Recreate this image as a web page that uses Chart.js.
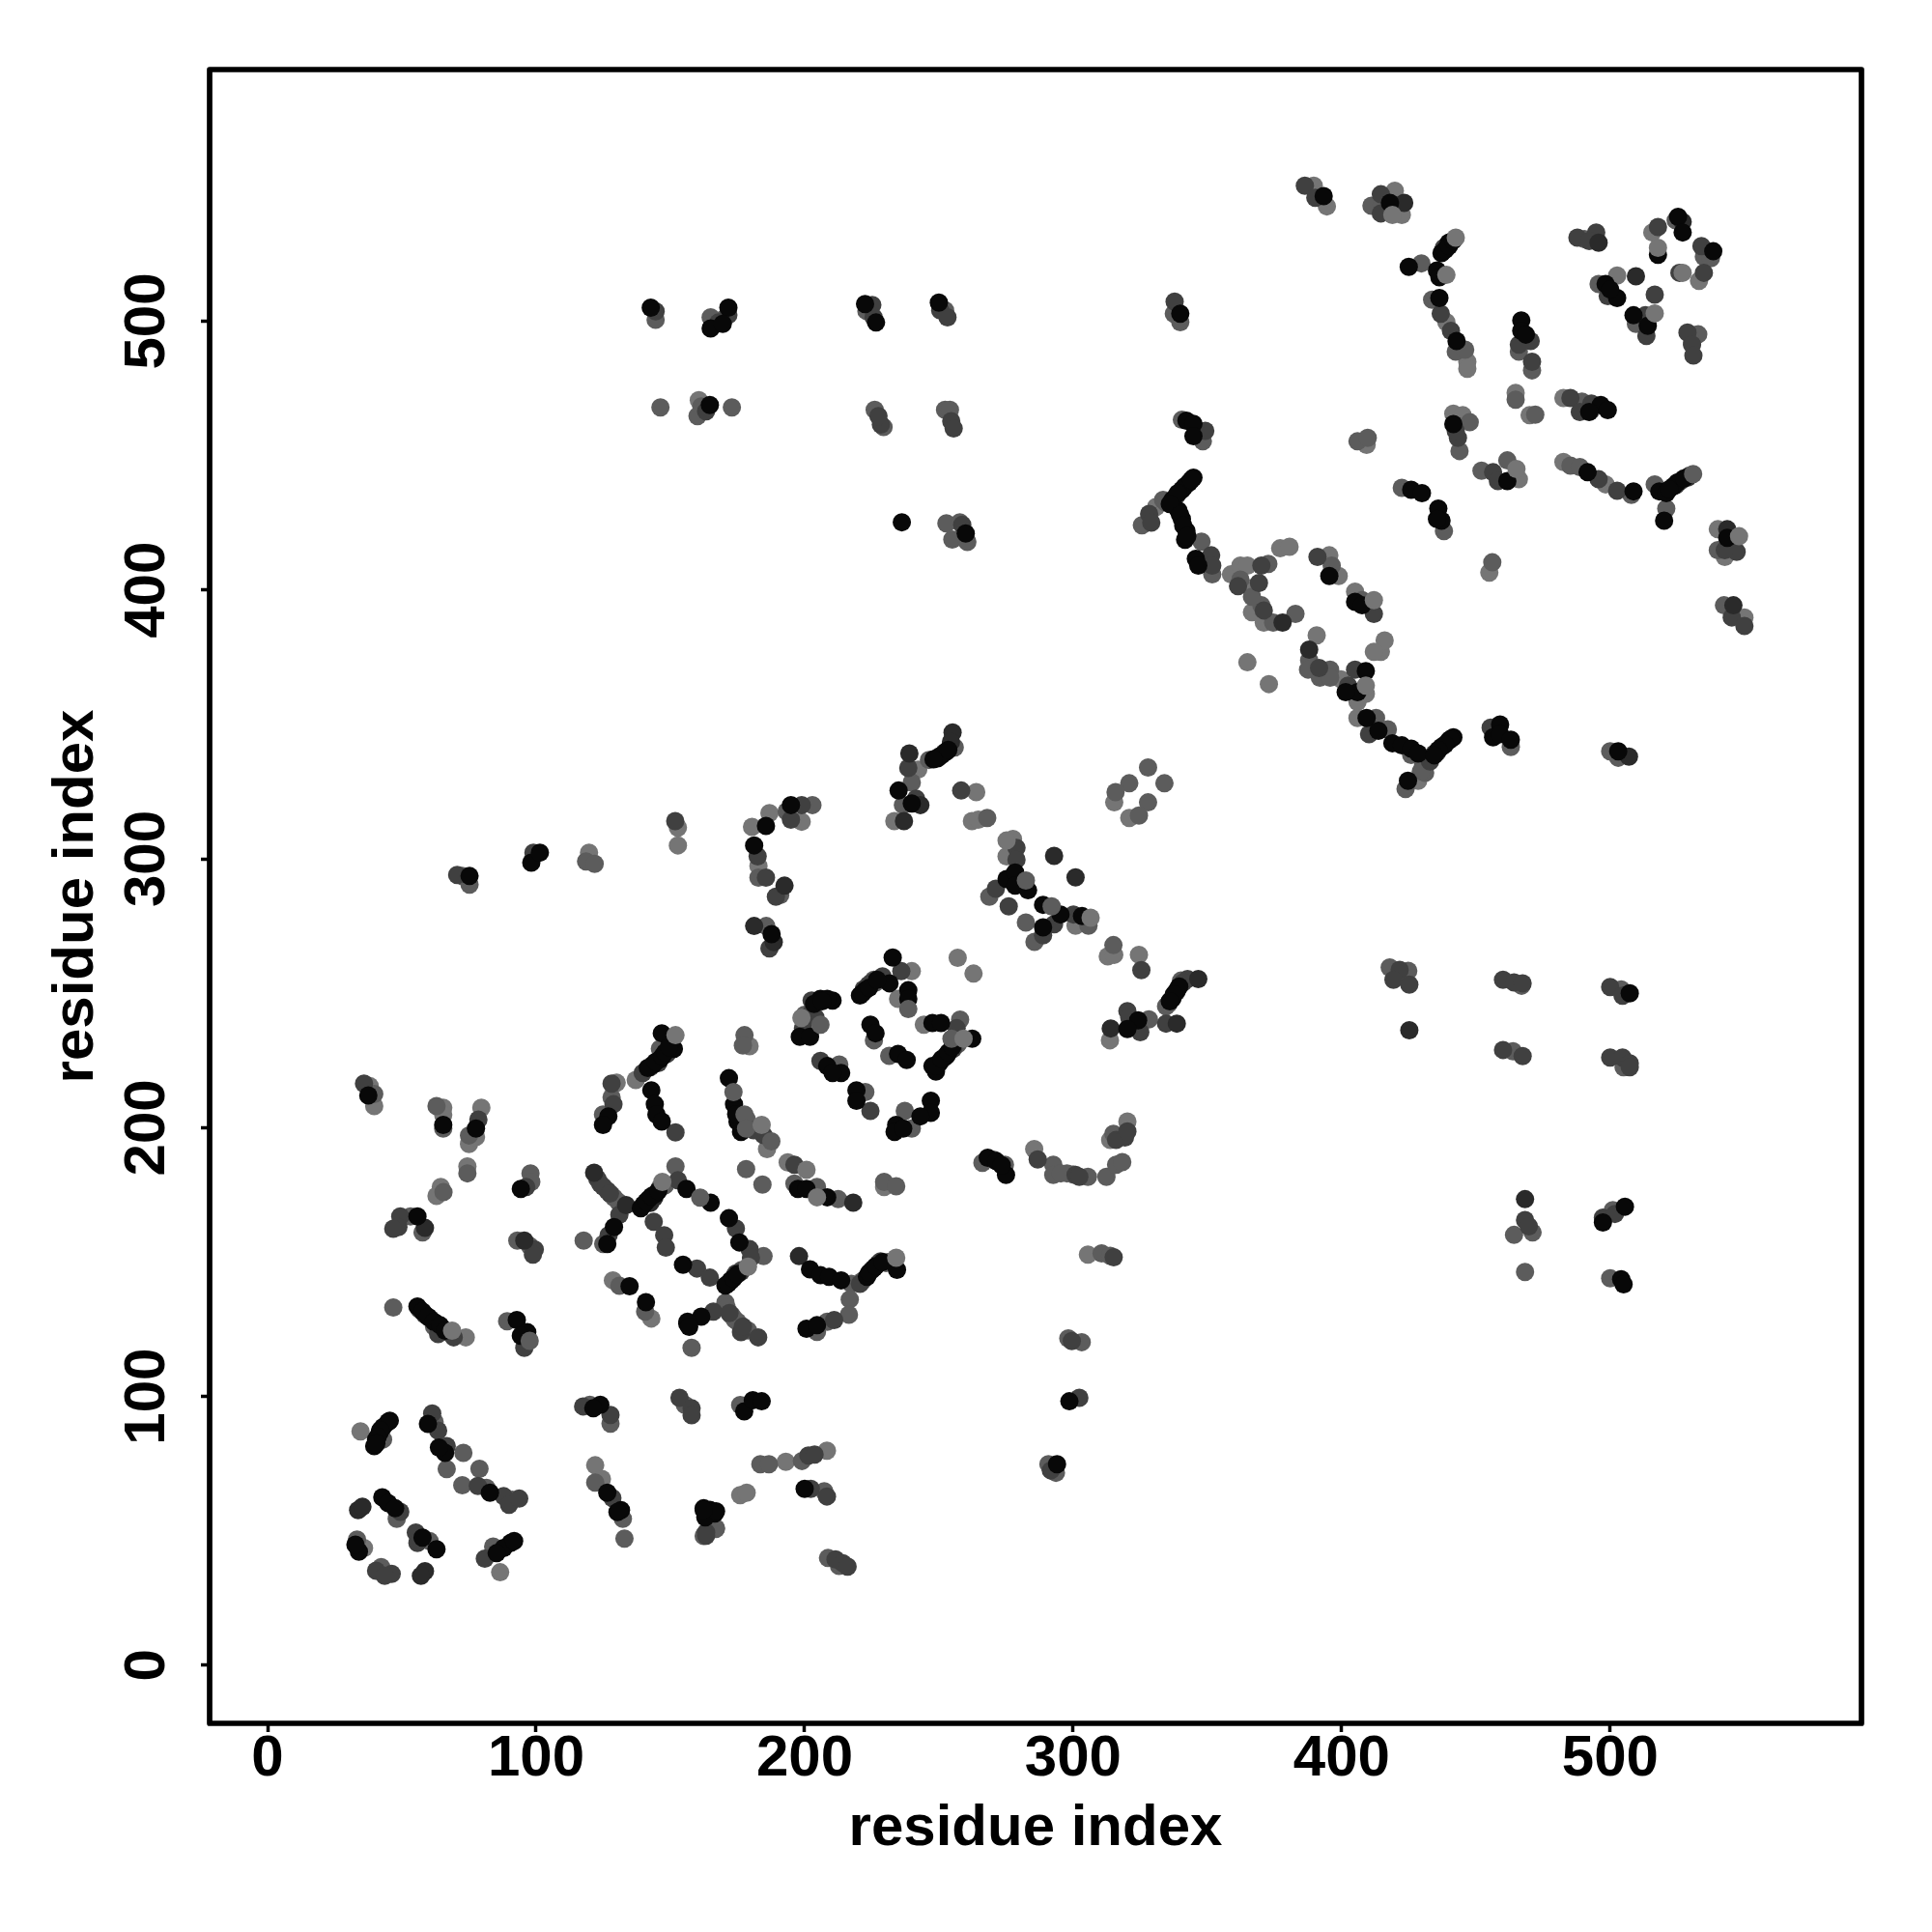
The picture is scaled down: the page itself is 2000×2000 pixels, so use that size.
<!DOCTYPE html>
<html>
<head>
<meta charset="utf-8">
<title>residue contacts</title>
<script src="https://cdn.jsdelivr.net/npm/chart.js@4"></script>
<style>
  html, body { margin: 0; padding: 0; background: #fff; }
  canvas { display: block; }
</style>
</head>
<body>
<canvas id="contacts" width="2000" height="2000"></canvas>
<script>
// contact points, [residue x, residue y], one list per grey level
const lightPoints = [
  [38,215.5],[39.7,208],[65.4,207.4],[65.4,204.8],[79.6,207.4],[75,193.9],[77.6,196.5],[74.4,185.6],[64.5,177.9],[62.9,174.6],
  [73.8,122],[34.6,87],[35.9,43.6],[86.6,34.6],[122,74.4],[124.5,69.3],[128.6,143.2],[142.9,129],
  [137.1,217.7],[130,216.7],[179.5,230.3],[186,192],[193.7,187.1],[229.6,177.9],
  [239.9,258.2],[257,263.2],[262.9,257.3],[244.4,238.3],[234.8,247.9],[285.5,192],
  [119.7,302.3],[152.8,311.6],[152.8,305],[180.4,311.9],[186.9,317],[182.8,297.3],[198.9,313.8],[242.3,333.2],[233.4,314],[263.9,324.8],
  [262.3,314],[264.7,314.6],[315.3,321],[320.9,315.2],[277.6,307.4],[275.2,300.9],[300.9,275.1],[312.9,263.7],
  [315.3,264.3],[324.5,264.3],[313.7,232.5],[300,182.6],[313.8,195.4],[320.2,202.3],[305.5,152.8],
  [389.6,550.4],[394.5,542.7],[419.8,548.5],[422.4,539.5],[439,499.6],[446.8,484.9],[446.8,482.3],[464.8,473.3],
  [470,465],[482.6,471.4],[493,466.9],[409.3,454],[441.6,465.6],[445.1,465],[466,441.2],[482.6,447.6],[498.3,439.3],
  [330.9,430.9],[358.8,405.8],[362.3,409.1],[364.9,409.1],[377.1,415.5],[380.6,416.1],[366.6,400.7],[366.6,391.7],[371,387.9],[395.4,412.9],
  [398.9,405.2],[405,399.4],[390.7,383.1],[364.9,373.1],[372.9,365],[399.7,366.8],[414.6,377],[416,381.2],[412,377],
  [409,361.4],[405.9,358.4],[405.9,352.4],[428.5,329],[540.1,422.6],[542.7,412.3],[550,389.8],[455,406.5],
  [515.7,533],[533.1,515],[502.6,517],[160.6,470.6],[176,63.3],[178.4,64.2],[193,75.7],[208.3,79.8]
];

const midPoints = [
  [39.7,212.5],[62.9,208],[65.4,199.7],[75,197.1],[74.4,183],[65.5,176],[53.2,167],[57.7,161],[97.9,183],[98.2,179.8],
  [93,158],[97.6,156],[117.7,158],[129,174],[125,156.7],[151.9,185.6],[131,141.2],[140.6,131.6],[157.9,118.1],
  [46.8,133.1],[89.2,128],[43,84],[62.2,90.5],[72.9,79],[66.7,73],[78.9,73.1],[72.5,67],[81.5,66],
  [91.1,61.6],[48.1,54.5],[60.3,46.2],[33.3,46.8],[42.3,36.5],[84,44.2],[120,96.9],[127.7,89.9],[155.4,96.9],[122,68],
  [132.3,54.5],[132.9,47.1],[162.4,48.1],[166.9,50.7],[176,96.8],[183.5,74.8],[186.7,74.8],[199,76],[207.3,64.7],[208.7,39.9],
  [212.8,37],[167,51],[146.1,229.3],[128.1,211.3],[124.9,204.9],[177.6,234.4],[177,230.6],
  [178.2,184.6],[184.3,178.8],[196.2,179.2],[204.6,177.9],[212.5,173.4],[229.6,179.8],[234.1,178.2],[225.8,255],
  [225.8,232.5],[257.9,240.2],[231.5,226.7],[212.9,223.5],[222.6,213.2],[237.3,206.2],[239.9,199.7],[266.2,186.9],
  [274.6,186.2],[292.6,186.2],[292.6,182.4],[297.7,183],[184.7,152.2],[170.5,134.9],[172.5,130.4],[175,127.8],[178.9,124.6],[217.4,141.9],
  [230.3,149.6],[216.8,136.1],[216.5,130.4],[208.4,127.8],[204.6,124],[118.6,299],[72.5,293.6],[75.2,290.4],[182.8,293],[190.9,286.5],
  [202.9,320],[193.3,317.6],[185.7,275],[255.9,341.4],[246.3,336.8],[239.9,328.4],[236.6,320],[268,315.2],[327.9,334],[320.9,328.1],
  [334,328.1],[315.8,324.8],[327.9,321],[324.5,316.1],[268.8,285.9],[282.4,276.3],[285.6,269.1],[305.7,275.1],
  [315,267.9],[340.2,254.7],[334.6,245.1],[328.2,240.3],[295.4,183],[305.5,181.7],[312.4,181.7],[316,186.2],[318.3,187.2],[315,197.7],
  [310.6,153.2],[313.8,152.3],[298.2,121.6],[303.2,120.2],[290.8,74.8],[293.6,71.6],[417.9,259.6],[424.8,258.3],[467,252.8],[504.1,251.4],
  [463.8,228.4],[505,222.5],[471.1,161],[464.2,160.1],[468.3,146.3],[501,169.3],[500,144],[411.1,542.9],[414.9,543.3],
  [429.7,521.5],[433.7,508],[442.5,488.7],[446,489.4],[470.9,481.7],[466,488.7],[464.8,470.8],[472.1,465.2],[489.5,470.1],[340.5,463.3],
  [348.3,455.3],[405.9,455.3],[409.7,456.6],[447.7,462.4],[443.9,451.7],[452.1,444.4],[461.7,448.2],[485.2,446.3],[488.7,445.7],[507.9,435.4],
  [516.6,439.3],[520.9,430.3],[422.4,438],[438.1,421.9],[333.5,433.5],[325.6,424.1],[347.8,418],[351.8,405.8],[372.7,409.7],
  [362.3,403.9],[370.1,394.3],[374.5,387.9],[382.8,391.1],[366.6,397.5],[396.3,409.1],[407.6,396.2],[387.9,373.9],[387.5,370.4],[391.9,367.4],
  [395.7,370.4],[395.7,367.4],[412.8,352.4],[417.2,348.2],[425.9,338.6],[430.3,334.4],[431.1,332],[423.8,326],[463,341.6],[500,340],
  [503,337.6],[540.1,414.8],[542.4,394.3],[456.1,410.3],[490.4,530.5],[524.4,537.5],[534.9,524],[537.5,523.4],[495.7,513.8],[509.6,499],
  [532.8,495.1],[530.5,492],[144.5,500.5],[165,501.4],[169.3,500.5],[223,503.8],[252.3,504],[146.3,467.9],[160.1,464.7],[161.5,468.3],
  [172.9,467.9],[226.1,467],[229.4,460.6],[252.3,467],[254.1,467],[252.8,424.8],[257.8,425.2],[255,418.8],[260.6,417.9],[337.5,502.8],[339.9,499.6],
  [41.5,83.5],[67,124],[62,126],[146,177.5],[148,178.5],[147,227.5],[226.5,254],[228,255.5],[253,227],[255,229.5],[257,231],
  [221.5,143],[231,150],[174,145],[176.5,147],[128,175],[130.5,172.5],[171,133],[173,130],[174,128.5],[177,125.5],
  [334.5,432.5],[431.5,335.5],[429.5,332.5],[335.5,246],[178.5,203],[200,242]
];

const darkPoints = [
  [35.9,216.4],[78.5,203],[49.4,167],[48.7,163],[46.8,162.4],[96.3,177.9],[99.5,154.7],[98.8,152.8],[123.9,179.1],[126.5,176.6],
  [131,167.6],[127,160],[152.8,180.4],[147.7,160],[148.3,155.4],[159.9,147.6],[143.8,165],[164.7,144.2],[63.5,123.2],[69.3,122],
  [95.6,118.1],[61.3,93.7],[63.5,87.3],[66.7,81.5],[78.3,66.7],[87.9,62.9],[89.9,59.7],[93.7,62],[49.4,57.1],[55.2,49.4],
  [55.8,45.5],[40.4,35.2],[46.2,34],[43.6,33.3],[80.9,39.7],[117.5,96.3],[127.7,93.1],[153.4,99.5],[157.9,95.6],[157.9,93],
  [128.4,62.2],[202.3,65.6],[201.4,78],[203.7,78.4],[208.3,62.8],[211.5,39.4],[214.2,38],[216,36.7],[163.3,49.5],[163.3,48.2],
  [148.7,227.4],[139.7,220.3],[128.1,216.4],[128.8,208.7],[151.9,198.2],[184.7,197.2],[196.2,186.2],[236,258.2],[223.8,253.1],[229,256.3],
  [202.6,247.3],[202.6,242.8],[199.4,237],[256.6,237],[255.3,229.3],[205.9,224.8],[224.5,206.2],[286.8,188.2],[300.9,182.4],[174.4,162.5],
  [179.5,154.8],[180,151.6],[174.4,145.8],[176.3,146.4],[166,131.6],[182.7,122],[176.3,123.9],[220.6,141.9],[228.3,150.3],[211,128.4],
  [70.6,294],[99,302.3],[151.8,314],[182.5,300.9],[185.6,293],[189.3,285.9],[198.9,320],[194.9,314.6],[186.9,266.7],
  [238.6,333.8],[241.5,322.4],[258.3,325.4],[278.9,304.1],[278.9,299.7],[271.2,288.9],[276,282.3],[292.9,275.7],[288.8,271.5],[300.1,279.3],
  [325.4,258.6],[342.6,255.3],[334.6,238.7],[320.2,243.3],[320.9,240.9],[325,235.5],[270.6,188],[302.3,181.7],[316,195.4],[319.3,196.3],
  [320.2,198.6],[315.1,151.8],[299.5,120.6],[302.3,99.5],[291.7,72.5],[421.6,258.7],[419.3,255],[425.2,253.2],[460.1,255],[464.2,254],
  [467.4,253.7],[500,252.3],[504.6,249.1],[460.1,228.9],[467.4,226.6],[500,226.1],[504.6,226.1],[507.3,223.9],[507.3,222.5],[468.3,165.6],
  [469.7,163.3],[497.3,166.5],[501.8,167.9],[386.3,550.4],[390.2,545.9],[414.6,547.2],[414.6,540.1],[438.1,527.3],[440.7,496.4],[470.4,492.6],
  [466,491.3],[470.9,484.9],[485.2,471.4],[493,469.4],[488.7,466.2],[349.2,459.2],[443.3,456.6],[442.5,459.2],[456.4,443.8],[458.2,440.5],
  [495.7,441.2],[502.6,436.9],[526.2,440.5],[528.8,441.8],[338.7,435.4],[328.3,428.3],[329.1,425.1],[351.4,412.9],[351.8,409.1],[370.1,409.1],
  [361.4,401.4],[369.2,402.6],[371,392.4],[391,412.3],[412,391.1],[391.6,371],[402.4,364.4],[405,370.4],[410.2,346.4],[434.6,339.2],
  [432.9,336.2],[455.5,348.8],[547.1,414.2],[542.7,414.8],[545.3,389.8],[550,386.6],[487.8,531.1],[494.8,533],[492.2,529.8],[517.8,535],
  [534,527.9],[525.8,518],[534.9,518],[499.1,509.3],[516.6,509.9],[513.1,502.2],[513.5,494.5],[528.8,495.8],[530.5,491.3],[531,487.2],
  [144.5,503.7],[167.9,499.5],[171.6,502.3],[225.2,506],[225.7,501.4],[250.5,504],[253.2,501.4],[163.3,466.5],[228.4,461.5],[227.5,464.7],
  [254.6,462.8],[255.5,460.1],[258.7,424.3],[337.8,507.3],[436.9,502.8],
  [56.5,132.5],[58.5,130.5],[60.5,129],[63,127],[65,125.5],[142.5,222.5],[145.5,224],[222,251.5],[225,254],[250,224],[252,226],
  [225,147],[227.5,149.5],[172.5,143],[122.8,181],[125,178],[127.5,175.5],[172,131],[177,126],[338,434.5],[433,337],[435.5,339.5],
  [250,338],[252,339.5],[341,254],[338.5,250.5],[524.5,439],[181,199],[204,241]
];

const charcoalPoints = [
  [58.6,162.7],[95.6,158],[121.6,183.2],[133.5,171.2],[33.7,57.7],[35.3,59],[58.6,35],[57.1,33.3],[218.1,172.1],[197.9,152.2],
  [239,339.2],[255.1,347],[243.1,320],[237,314],[181.2,275],[188.5,269],[192.5,290],[292.9,301.1],[300.9,293.1],[346.6,255.3],
  [338.6,238.7],[314,236.9],[468.3,173.4],[423.3,544],[378,387.9],[387.9,377.8],[507,338],[543.6,422.6],[545.9,394.3],[527,536.9],
  [495.7,529.2],[509.6,516.7],[142.5,172],[144,174],[150,231],[439,527],[254.5,343.5],[529.5,442.5],[425.2,236.2]
];

const blackPoints = [
  [37.5,212],[65.4,201],[77.6,199.7],[55.8,167],[94.3,177.2],[129,163],[126.5,156.7],[140,171.4],[141.9,173.4],[144.4,175.3],
  [156,177.2],[165,172.1],[154.7,149],[134.8,141],[140.9,135.1],[156.3,127.1],[55.8,133.5],[57.7,131.6],[59.7,129.7],[61.9,127.8],
  [64.2,126.5],[66.1,124.5],[92.8,128.4],[96.7,123.9],[94.3,122.6],[44.9,90.5],[43,88.6],[41.7,86.6],[40.4,84],[39.7,81.5],
  [59.7,89.8],[66.1,79],[63.8,81],[82.8,64.2],[42.7,62.5],[44.9,60.3],[47.5,58.4],[57.7,47.5],[62.9,43.2],[34,42.3],
  [32.7,44.9],[90.5,45.5],[87.9,43.6],[85.3,41.7],[91.8,46.2],[123.9,96.9],[121.3,95.6],[126.5,64.2],[131.6,57.7],[130.3,57],
  [162.4,58.4],[166.5,56.5],[163,55],[177.5,94.5],[180.7,98.6],[184,98.2],[200,65.6],[164.7,57.8],[167,57.3],[162.4,57.8],
  [146.8,235.1],[151.3,229.3],[146.1,225.4],[143.6,223.5],[141.6,222.2],[126.9,204.2],[124.9,201],[142.9,213.9],[144.2,208.7],[144.8,204.9],
  [146.8,202.3],[171.8,218.4],[173.7,208.7],[175,202.3],[176.3,198.4],[197.5,177.2],[200.7,177.2],[208.4,174.1],[232.8,263.3],[222.6,251.1],
  [220.6,249.2],[231.6,253.7],[238.6,251.1],[238.6,247.9],[205.9,247.9],[210.4,247.3],[208.4,247.9],[198.2,233.8],[202,233.8],[224.5,238.3],
  [226.4,235.1],[247.6,238.9],[250.8,238.9],[262.4,233.1],[252.7,226.7],[250.2,224.1],[247.6,222.9],[248.9,220.9],[234.8,227.4],[238,225.2],
  [208.4,222.9],[213.6,220.3],[210.4,220.3],[219.3,213.9],[219.3,210],[247,210],[247,205.5],[243.1,204.2],[234.1,201],[233.5,198.4],
  [236.7,199.7],[268.2,188.8],[271.4,187.5],[275,182.4],[171.8,166.3],[175.7,157.3],[172.5,143.2],[170.5,141.3],[161.5,129.7],[156.4,127.8],
  [157,125.9],[202,147.3],[205.9,145.1],[209.1,144.5],[213.6,143.2],[223.2,144.5],[225.8,147.7],[234.4,147.1],[200.7,125.2],[204.6,126.5],
  [75.2,293.6],[98.2,298.6],[101.4,302.3],[181.2,305],[185.6,312.2],[194.9,320],[187.7,272],[252.7,339.8],[249.5,337.4],[235,325.4],
  [239.9,320.6],[275.2,292.5],[278.4,294.9],[278.4,290],[283.2,288.3],[288.8,282.9],[295.3,279.3],[288.8,274.5],[303.3,278.7],[338.6,251],
  [337,248.1],[324.2,239.9],[320.2,236.7],[273.4,186],[298.6,98.2],[294,74.8],[507.3,250],[497.3,164.7],[505.5,170.6],
  [504.1,143.6],[505,141.7],[393.3,546.5],[418,544],[439.9,529.2],[437.2,525.3],[425,520.2],[435.5,518.9],[436.4,516.3],[436.4,508.6],
  [442.8,492.6],[466.9,500.3],[466.9,496.4],[468.6,495],[496.5,468.8],[492.2,466.2],[499.1,466.9],[342.2,463],[344.8,461.8],[344.8,457.2],
  [441.6,461.7],[461.7,440.5],[491.6,443.8],[508.7,436.7],[518.3,436.7],[520.9,436],[523.6,438.6],[520.1,425.8],[425.9,437.3],[429.9,436],
  [436,430.3],[437.2,425.8],[435.5,426.4],[344.8,441.8],[343.1,439.9],[340.5,437.3],[337,433.5],[339.2,429.6],[340.5,426.4],[342.2,421.9],
  [341.7,418.7],[345.7,411.6],[346.6,409.1],[395.4,405.2],[405,395.6],[407.6,394.3],[409,369.8],[405.9,362],[401.5,362],[409.3,352.4],
  [413.7,347.6],[418.9,343],[422.4,342.2],[425.9,341],[428.5,339.2],[441.6,345.2],[439.9,344],[437.2,341.6],[424.7,329],[459,350],
  [456.4,345.2],[459,346.4],[463,344.3],[503,340],[543.6,419.4],[525.3,538.8],[527,533],[538.4,526],[517.8,524.7],[498.3,513.8],
  [502.6,508.6],[500,511.8],[508.7,502.2],[514,498.3],[142.7,505],[165,497.3],[171.6,505],[169.5,499],[222.5,506.4],[226.6,499.5],
  [250,506.9],[164.7,468.8],[236.2,425.2],[260,421],[339.9,502.8],
  [45.5,91],[42,87.5],[41,85],[40.5,82.5],[139,170],[141,172.5],[143,174.5],[145.5,176.5],[144.5,224.5],[147,226.5],[148,228],[149.5,230],
  [221.5,250],[224,252],[227,255],[249,223],[251,225.5],[253.5,228],[255,230],[224,146],[226.5,148.5],[229,150],[171.5,142],[173.5,144],[175,145.5],
  [438.5,526.5],[440,528],[441.5,530],[341.5,438.5],[344,441],[339,436],[336,432],[440.5,344.5],[438.5,342.5],[436,340.5],[434.5,338.5],
  [339.8,428],[341,424],[342.5,420],[251,338.5],[253.5,340.5],[248,337],[339.5,252.5],[337.5,249.5],[336,247],[525,440],[527.5,441.5],[522,437.5],
  [174.5,205],[203.5,246],[206.5,247]
];

// these sit above the black runs in the picture
const topMidPoints = [
  [97.6,120.7],[161.1,174],[173.5,213.2],[177.6,204.9],[178.2,199.7],[187.6,194.9],[238.6,244.1],[205.9,238.3],[254.7,233.1],[282.4,291.9],
  [292,282.3],[530.9,443.1],[121.8,298.1]
];

const topLightPoints = [
  [151.9,234.4],[147,179.8],[68.7,124.5],[200.7,184.3],[204.6,174.1],[234.1,151.6],[178.9,148.3],[184,201],[198.8,240.8],[259.2,233.1],
  [275.2,306.8],[306.5,278.1],[439,517.2],[442.5,531.1],[412,396.2],[409,364.4],[548,420],[527,518],[517.8,527.3],[516.6,502.9],
  [418.9,539.5],[465.1,445]
];

const tickValues = [0, 100, 200, 300, 400, 500];
const axisLabel = 'residue index';

const fontFace = '"Liberation Sans", Arial, sans-serif';

// the box round the plot
const frame = {
  id: 'frame',
  afterDatasetsDraw(chart) {
    const { ctx, chartArea: a } = chart;
    ctx.save();
    ctx.strokeStyle = '#000';
    ctx.lineWidth = 5.7;
    ctx.lineJoin = 'round';
    ctx.strokeRect(a.left, a.top, a.right - a.left, a.bottom - a.top);
    ctx.restore();
  }
};

function layer(points, color, order) {
  return {
    data: points.map(p => ({ x: p[0], y: p[1] })),
    backgroundColor: color,
    borderWidth: 0,
    pointRadius: 9.5,
    order: order
  };
}

function axis(fit, ticksExtra, titlePadding) {
  return Object.assign({
    type: 'linear',
    min: -21.6,
    max: 593.6,
    afterBuildTicks(scale) { scale.ticks = tickValues.map(v => ({ value: v })); },
    afterFit: fit,
    border: { display: false },
    grid: { drawOnChartArea: false, drawTicks: true, tickLength: 9, tickWidth: 3.5, tickColor: '#000' },
    title: {
      display: true,
      text: axisLabel,
      color: '#000',
      font: { family: fontFace, size: 60, weight: 'bold' },
      padding: titlePadding
    }
  }, ticksExtra);
}

const tickFont = { family: fontFace, size: 60, weight: 'bold' };

new Chart(document.getElementById('contacts'), {
  type: 'scatter',
  data: {
    datasets: [
      layer(topLightPoints, '#757575', 0),
      layer(topMidPoints, '#5c5c5c', 1),
      layer(blackPoints, '#080808', 2),
      layer(charcoalPoints, '#2a2a2a', 3),
      layer(darkPoints, '#404040', 4),
      layer(midPoints, '#5c5c5c', 5),
      layer(lightPoints, '#757575', 6)
    ]
  },
  options: {
    responsive: false,
    animation: false,
    layout: { padding: { top: 72, right: 73, bottom: 0, left: 0 } },
    plugins: { legend: { display: false }, tooltip: { enabled: false }, title: { display: false } },
    scales: {
      x: axis(s => { s.height = 216; },
        { ticks: { autoSkip: false, maxRotation: 0, minRotation: 0, padding: -8, color: '#000', font: tickFont } },
        { top: 0, bottom: 71 }),
      y: axis(s => { s.width = 217; },
        { ticks: { autoSkip: false, minRotation: 90, maxRotation: 90, crossAlign: 'center', padding: 4, color: '#000', font: tickFont } },
        { top: 43, bottom: 0 })
    }
  },
  plugins: [frame]
});
</script>
</body>
</html>
